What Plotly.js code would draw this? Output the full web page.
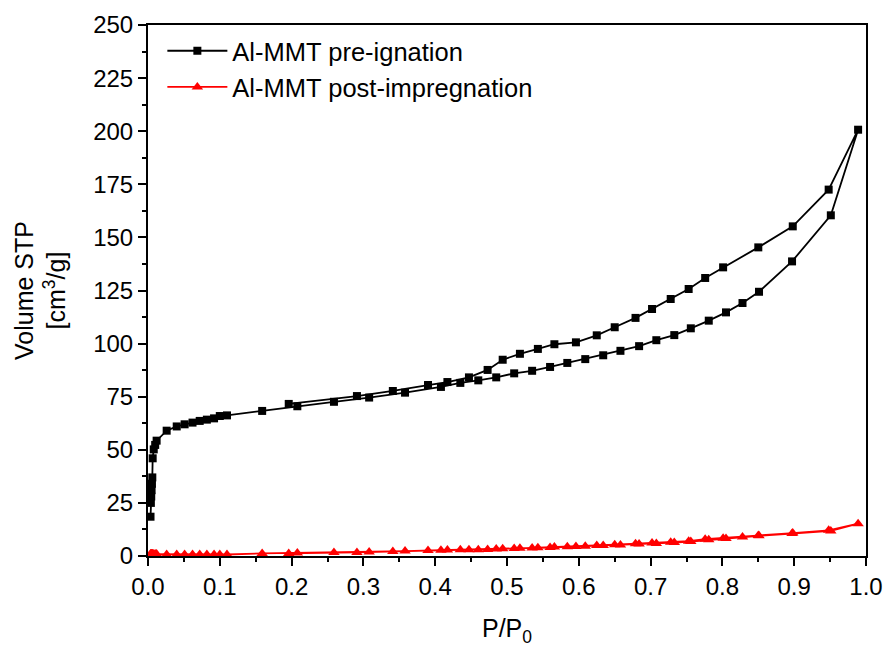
<!DOCTYPE html>
<html>
<head>
<meta charset="utf-8">
<script src="https://cdn.plot.ly/plotly-3.0.1.min.js"></script>
<style>html,body{margin:0;padding:0;background:#fff;}#chart{width:888px;height:648px;}</style>
</head>
<body>
<div id="chart"></div>
<script>
// Adsorption branch P/P0
const adsX = [0.0035, 0.004, 0.0045, 0.005, 0.0055, 0.006, 0.0065, 0.008, 0.010, 0.012, 0.026, 0.040, 0.051, 0.062, 0.072, 0.082, 0.092, 0.100, 0.110, 0.159, 0.208, 0.259, 0.308, 0.358, 0.408, 0.435, 0.460, 0.485, 0.510, 0.535, 0.560, 0.584, 0.609, 0.634, 0.658, 0.684, 0.708, 0.733, 0.756, 0.781, 0.805, 0.828, 0.851, 0.897, 0.951, 0.989];
// Desorption branch P/P0
const desX = [0.948, 0.898, 0.850, 0.801, 0.776, 0.753, 0.728, 0.702, 0.679, 0.650, 0.625, 0.596, 0.566, 0.543, 0.518, 0.494, 0.473, 0.447, 0.417, 0.390, 0.341, 0.291, 0.196];

// Al-MMT pre-ignation volumes
const preAds = [18.5, 25, 28, 31, 34, 37, 46, 50.2, 52.3, 54.3, 59, 61, 62, 62.8, 63.6, 64.2, 64.8, 65.9, 66.2, 68.3, 70.5, 72.6, 74.6, 76.9, 79.6, 81.5, 82.7, 84.1, 86, 87.2, 89, 90.9, 92.7, 94.5, 96.6, 98.8, 101.6, 104, 107.2, 110.8, 114.7, 119.1, 124.4, 138.7, 160.4, 200.7];
const preDes = [172.5, 155.2, 145.3, 135.9, 130.9, 125.7, 121, 116.3, 112.1, 107.7, 103.9, 100.6, 99.7, 97.5, 95.2, 92.4, 87.6, 84.1, 81.9, 80.5, 77.7, 75.3, 71.6];

// Al-MMT post-impregnation volumes
const postAds = [0.9, 0.9, 0.9, 0.9, 0.9, 0.9, 0.9, 0.9, 0.9, 0.9, 0.7, 0.7, 0.7, 0.7, 0.7, 0.7, 0.7, 0.7, 0.7, 1.2, 1.4, 1.6, 1.9, 2.3, 2.7, 2.9, 3.0, 3.3, 3.5, 3.8, 4.0, 4.3, 4.6, 5.0, 5.2, 5.6, 5.9, 6.3, 6.8, 7.6, 8.2, 9.0, 9.5, 10.6, 11.8, 15.2];
const postDes = [12.1, 10.8, 9.7, 8.4, 7.9, 7.0, 6.5, 6.1, 5.8, 5.3, 4.9, 4.5, 4.2, 3.9, 3.6, 3.4, 3.1, 2.9, 2.8, 2.6, 2.1, 1.7, 1.2];

const seriesNames = ["Al-MMT pre-ignation", "Al-MMT post-impregnation"];
const xTickVals = [0, 0.1, 0.2, 0.3, 0.4, 0.5, 0.6, 0.7, 0.8, 0.9, 1.0];
const xTickText = ["0.0", "0.1", "0.2", "0.3", "0.4", "0.5", "0.6", "0.7", "0.8", "0.9", "1.0"];
const yTickVals = [0, 25, 50, 75, 100, 125, 150, 175, 200, 225, 250];

const font = "Arial, 'Liberation Sans', sans-serif";

const traces = [
  {
    x: adsX.concat(desX), y: preAds.concat(preDes),
    name: seriesNames[0], type: "scatter", mode: "lines+markers",
    line: {color: "#000000", width: 1.8},
    marker: {symbol: "square", size: 8, color: "#000000"}
  },
  {
    x: adsX.concat(desX), y: postAds.concat(postDes),
    name: seriesNames[1], type: "scatter", mode: "lines+markers",
    line: {color: "#ff0000", width: 1.8},
    marker: {symbol: "triangle-up", size: 10, color: "#ff0000"}
  }
];

const axisCommon = {
  showline: true, linecolor: "#000", linewidth: 2, mirror: true,
  ticks: "outside", ticklen: 8, tickwidth: 2, tickcolor: "#000",
  showgrid: false, zeroline: false,
  tickfont: {family: font, size: 24, color: "#000"}
};

const layout = {
  width: 888, height: 648,
  margin: {l: 148, r: 22, t: 25, b: 92},
  paper_bgcolor: "#fff", plot_bgcolor: "#fff",
  font: {family: font, color: "#000"},
  showlegend: true,
  legend: {
    x: 0.02, y: 0.995, xanchor: "left", yanchor: "top",
    bgcolor: "rgba(0,0,0,0)", borderwidth: 0,
    font: {family: font, size: 25.5, color: "#000"},
    itemwidth: 60, tracegroupgap: 0
  },
  xaxis: Object.assign({}, axisCommon, {
    range: [0, 1.0], tickvals: xTickVals, ticktext: xTickText,
    minor: {dtick: 0.05, ticks: "outside", ticklen: 4, tickwidth: 2, tickcolor: "#000"},
    title: {text: "P/P<sub>0</sub>", font: {family: font, size: 25, color: "#000"}, standoff: 21}
  }),
  yaxis: Object.assign({}, axisCommon, {
    range: [0, 250], tickvals: yTickVals,
    minor: {dtick: 12.5, ticks: "outside", ticklen: 4, tickwidth: 2, tickcolor: "#000"},
    title: {text: "Volume STP<br>[cm<sup>3</sup>/g]", font: {family: font, size: 25, color: "#000"}, standoff: 20}
  })
};

Plotly.newPlot("chart", traces, layout, {displayModeBar: false, staticPlot: true});
</script>
</body>
</html>
